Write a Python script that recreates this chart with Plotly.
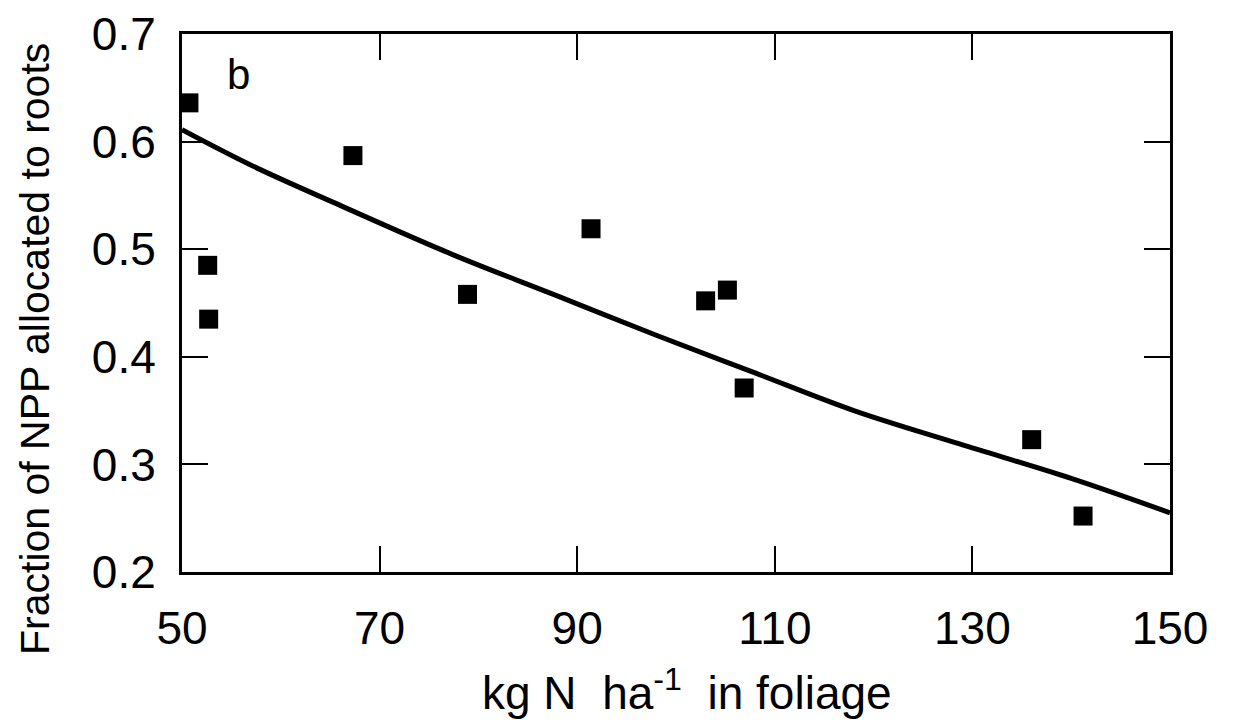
import plotly.graph_objects as go

# observed points
n_foliage = [50.7, 67.3, 52.6, 52.7, 78.9, 91.4, 103.0, 105.2, 106.9, 136.0, 141.2]
frac_roots = [0.636, 0.587, 0.485, 0.435, 0.458, 0.519, 0.452, 0.462, 0.371, 0.323, 0.252]

# fitted curve
curve_x = [50, 57, 65.2, 77.4, 87.6, 98, 108, 118, 128.7, 140, 150]
curve_y = [0.611, 0.578, 0.544, 0.495, 0.458, 0.420, 0.385, 0.350, 0.319, 0.287, 0.255]

xticks = [50, 70, 90, 110, 130, 150]
yticks = [0.2, 0.3, 0.4, 0.5, 0.6, 0.7]

font = "Liberation Sans, Arial, sans-serif"

W, H = 1238, 720
L, R, T, B = 174, 76, 26, 156
pw, ph = W - L - R, H - T - B
OFF = 6  # page offset of the figure


def px(xp):
    return (xp - OFF - L) / pw


def py(yp):
    return (H - B - (yp - OFF)) / ph


fig = go.Figure()
fig.add_trace(go.Scatter(x=curve_x, y=curve_y, mode="lines",
                         line=dict(color="black", width=5, shape="spline"),
                         showlegend=False))
fig.add_trace(go.Scatter(x=n_foliage, y=frac_roots, mode="markers",
                         marker=dict(symbol="square", size=19, color="black"),
                         showlegend=False))

fig.add_annotation(x=55.7, y=0.662, text="b", showarrow=False,
                   font=dict(family=font, size=42, color="black"))

# axis titles as annotations
fig.add_annotation(xref="paper", yref="paper", x=px(685), y=py(688),
                   text="kg N  ha<sup>-1</sup>  in foliage", showarrow=False,
                   xanchor="center", yanchor="middle",
                   font=dict(family=font, size=46, color="black"))
fig.add_annotation(xref="paper", yref="paper", x=px(33), y=py(347),
                   text="Fraction of NPP allocated to roots", showarrow=False,
                   textangle=-90, xanchor="center", yanchor="middle",
                   font=dict(family=font, size=41, color="black"))

axis_common = dict(showline=True, linecolor="black", linewidth=3, mirror="ticks",
                   ticks="inside", ticklen=26, tickwidth=2, tickcolor="black",
                   showgrid=False, zeroline=False, automargin=False,
                   tickfont=dict(family=font, size=46, color="black"))

fig.update_xaxes(range=[50, 150], tickvals=xticks, ticktext=[str(v) for v in xticks],
                 ticklabelstandoff=14, **axis_common)
fig.update_yaxes(range=[0.2, 0.7], tickvals=yticks, ticktext=[f"{v:.1f}" for v in yticks],
                 ticklabelstandoff=14, **axis_common)

fig.update_layout(width=W, height=H, plot_bgcolor="white", paper_bgcolor="white",
                  margin=dict(l=L, r=R, t=T, b=B))

fig.write_html("out.html")
